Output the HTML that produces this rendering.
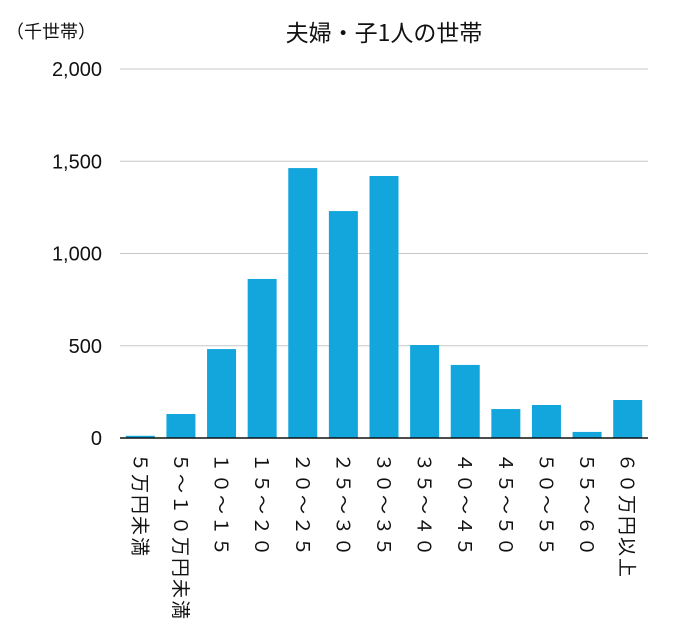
<!DOCTYPE html>
<html><head><meta charset="utf-8"><style>
body{margin:0;background:#fff;width:674px;height:632px;overflow:hidden;position:relative;font-family:"Liberation Sans","Noto Sans CJK JP",sans-serif;color:#111}
svg{position:absolute;left:0;top:0}
.xl{position:absolute;top:453px;writing-mode:vertical-rl;text-orientation:sideways;font-size:19px;line-height:20px;letter-spacing:2px;white-space:nowrap;font-family:"Noto Sans CJK JP",sans-serif}
</style></head><body>
<svg id="c" width="674" height="632"></svg>
<div id="labels"></div>
<script>
const categories=["５万円未満","５～１０万円未満","１０～１５","１５～２０","２０～２５","２５～３０","３０～３５","３５～４０","４０～４５","４５～５０","５０～５５","５５～６０","６０万円以上"];
const values=[12,130,482,862,1463,1230,1420,504,396,157,179,33,206];
const ticks=[0,500,1000,1500,2000];
const tickLabels=["0","500","1,000","1,500","2,000"];
const NS="http://www.w3.org/2000/svg";
const svg=document.getElementById('c');
const x0=120,x1=648,y0=438,yTop=69,maxV=2000;
const y=v=>y0-(v/maxV)*(y0-yTop);
const step=(x1-x0)/categories.length;
const cx=i=>x0+step*(i+0.5);
function mk(t,a){const e=document.createElementNS(NS,t);for(const k in a)e.setAttribute(k,a[k]);svg.appendChild(e);return e;}
ticks.forEach((t,i)=>{
 if(t>0){const g=mk('line',{x1:x0,x2:x1,y1:y(t),y2:y(t),stroke:'#c8c8c8','stroke-width':1});
 
 }
 const tx=mk('text',{x:102,y:y(t)+7,'text-anchor':'end','font-size':20,fill:'#111','font-family':'Liberation Sans, sans-serif'});
 tx.textContent=tickLabels[i];
 
 
});
values.forEach((v,i)=>{
 const r=mk('rect',{x:cx(i)-14.5,y:y(v),width:29,height:y0-y(v),fill:'#13a6dc'});
 
 
});
const ax=mk('line',{x1:x0,x2:x1,y1:y0,y2:y0,stroke:'#111','stroke-width':1.5});


const ti=mk('text',{x:384,y:41,'text-anchor':'middle','font-size':23,fill:'#111','font-family':'Noto Sans CJK JP, sans-serif'});
ti.textContent='夫婦・子1人の世帯';


const un=mk('text',{x:6,y:38,'font-size':18,fill:'#111','font-family':'Noto Sans CJK JP, sans-serif'});
un.textContent='（千世帯）';


const L=document.getElementById('labels');
categories.forEach((c,i)=>{
 const d=document.createElement('div');
 d.className='xl';d.textContent=c;
 d.style.left=(cx(i)-10)+'px';
 
 
 L.appendChild(d);
});
</script>
</body></html>
